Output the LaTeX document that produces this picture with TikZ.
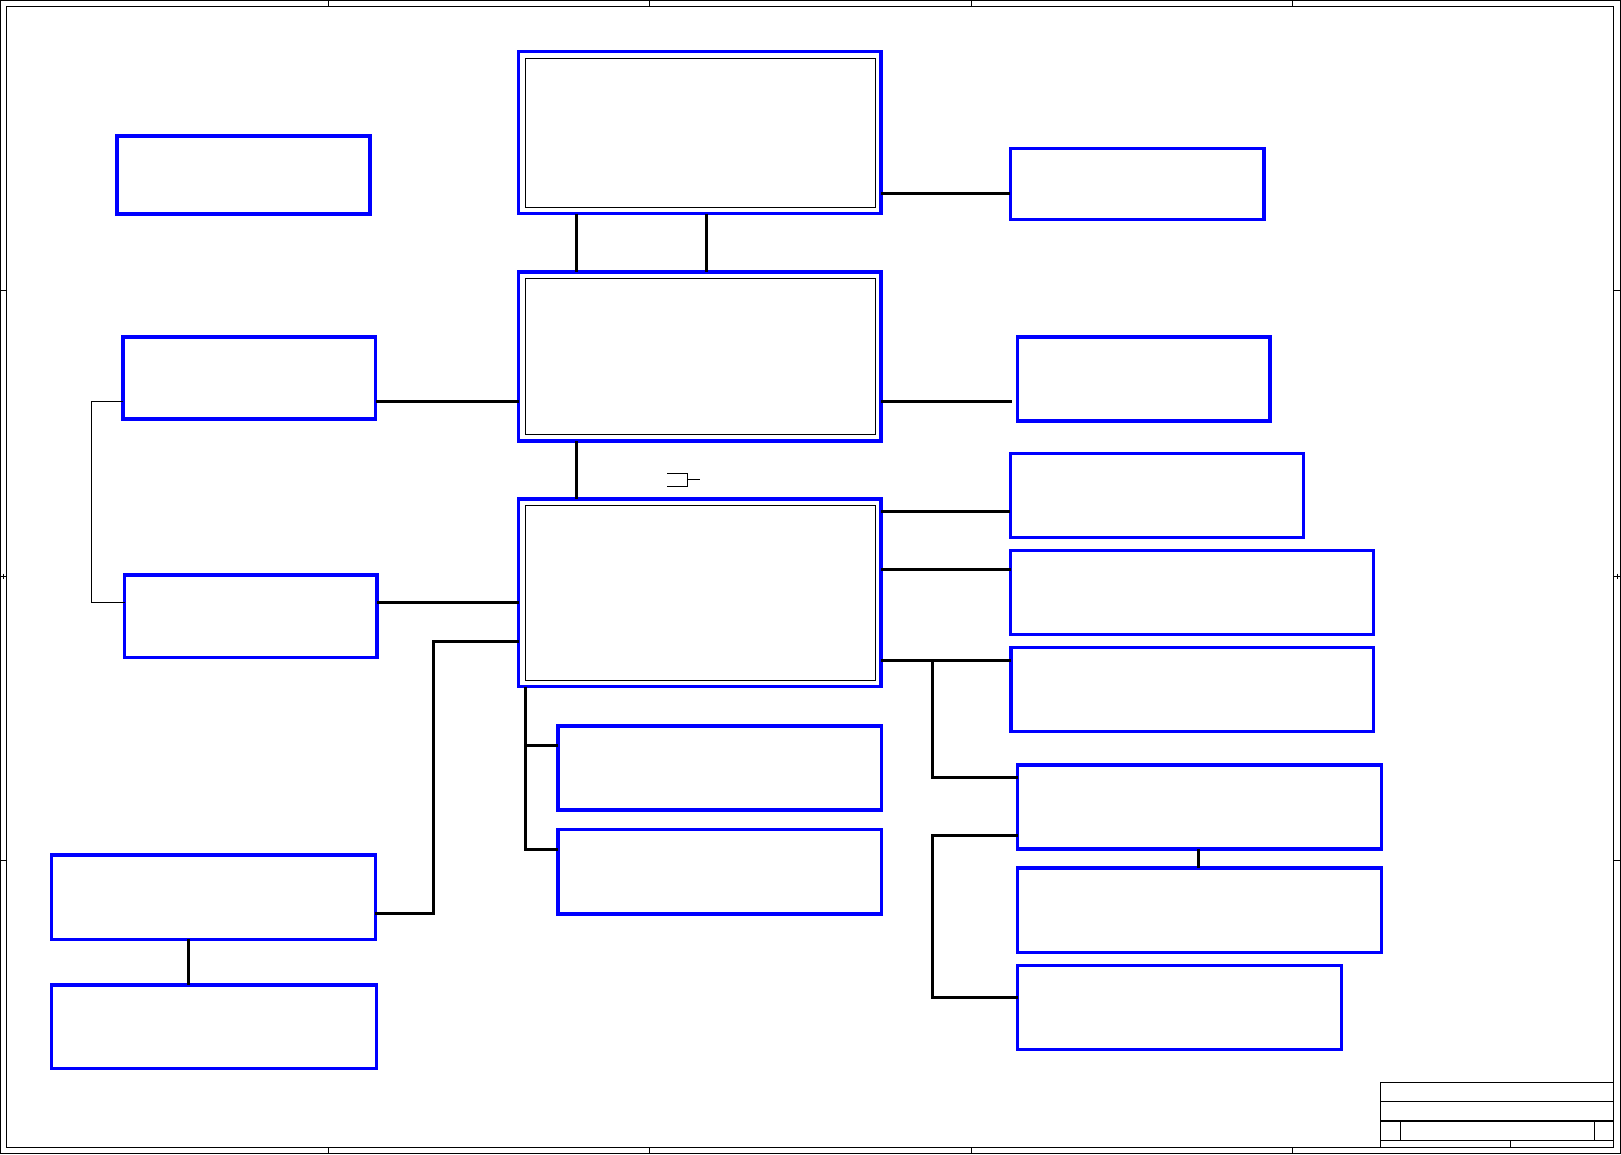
\documentclass[tikz,border=0pt]{standalone}
\usetikzlibrary{calc}
\begin{document}
\begin{tikzpicture}[x=1pt,y=-1pt,
  blk/.style={draw=blue,line width=3.2pt,inner sep=0pt,outer sep=0pt},
  wire/.style={line width=3pt},
  thinwire/.style={line width=1pt},
  frm/.style={line width=1.2pt},
  inbox/.style={line width=0.9pt}]
\useasboundingbox (0,0) rectangle (1621,1154);

% sheet frame
\draw[frm] (0.7,0.7) rectangle (1620.3,1153.3);
\draw[frm] (6.3,6.3) rectangle (1613.7,1147.3);
\foreach \x in {328.7,649.5,971,1292} {
  \draw[thinwire] (\x,0.7) -- (\x,6.3);
  \draw[thinwire] (\x,1147.3) -- (\x,1153.3);
}
\foreach \y in {290.5,576,860} {
  \draw[thinwire] (0.7,\y) -- (6.3,\y);
  \draw[thinwire] (1613.7,\y) -- (1620.3,\y);
}
\draw[thinwire] (3.5,573.5) -- (3.5,578.5);
\draw[thinwire] (1617,573.5) -- (1617,578.5);

% title block
\draw[frm] (1380.3,1147.3) -- (1380.3,1082.7) -- (1613.7,1082.7);
\foreach \y in {1101.7,1121,1140.3}
  \draw[frm] (1380.3,\y) -- (1613.7,\y);
\draw[frm] (1400.3,1121) -- (1400.3,1140.3);
\draw[frm] (1594.3,1121) -- (1594.3,1140.3);
\draw[frm] (1510.3,1140.3) -- (1510.3,1147.3);

% left column
\node[blk,minimum width=253pt,minimum height=78pt] (pwr) at (243.5,175) {};
\node[blk,minimum width=252.5pt,minimum height=82pt] (mema) at (249.25,378) {};
\node[blk,minimum width=252.3pt,minimum height=82.7pt] (memb) at (250.85,616.35) {};
\node[blk,minimum width=323.7pt,minimum height=84.3pt] (ioa) at (213.55,897.15) {};
\node[blk,minimum width=324.7pt,minimum height=83.7pt] (iob) at (214,1026.85) {};

% main column
\node[blk,minimum width=362.5pt,minimum height=162.2pt] (cpu) at (699.75,132.6) {};
\node[blk,minimum width=362.5pt,minimum height=169pt] (nb) at (699.75,356.5) {};
\node[blk,minimum width=362.5pt,minimum height=187.7pt] (sb) at (699.75,592.85) {};
\foreach \n in {cpu,nb,sb}
  \draw[inbox] ($(\n.north west)+(7,6.7)$) rectangle ($(\n.south east)+(-6,-6.7)$);
\node[blk,minimum width=323.2pt,minimum height=84pt] (lpca) at (719.6,768) {};
\node[blk,minimum width=323.2pt,minimum height=84.7pt] (lpcb) at (719.6,871.65) {};

% right column
\node[blk,minimum width=253.7pt,minimum height=71pt] (clk) at (1137.15,184.2) {};
\node[blk,minimum width=252.7pt,minimum height=84pt] (vga) at (1143.65,379) {};
\node[blk,minimum width=293pt,minimum height=83.8pt] (usb) at (1156.8,495.4) {};
\node[blk,minimum width=363pt,minimum height=83.8pt] (sata) at (1192.2,592.4) {};
\node[blk,minimum width=362.8pt,minimum height=84pt] (pcie) at (1192.3,689.7) {};
\node[blk,minimum width=363.4pt,minimum height=84pt] (lan) at (1199.5,807) {};
\node[blk,minimum width=363.4pt,minimum height=84.3pt] (phy) at (1199.5,910.15) {};
\node[blk,minimum width=323.8pt,minimum height=84pt] (aud) at (1179.7,1007.7) {};

% connectors
\draw[wire] (cpu.south -| 576.7,0) -- (nb.north -| 576.7,0);
\draw[wire] (cpu.south -| 706.3,0) -- (nb.north -| 706.3,0);
\draw[wire] (cpu.east |- 0,193.7) -- (clk.west |- 0,193.7);
\draw[wire] (mema.east |- 0,401.5) -- (nb.west |- 0,401.5);
\coordinate (vgaend) at (1011.7,401.7);
\draw[wire] (nb.east |- vgaend) -- (vgaend);
\draw[wire] (nb.south -| 576.7,0) -- (sb.north -| 576.7,0);
\draw[wire] (memb.east |- 0,602.5) -- (sb.west |- 0,602.5);
\coordinate (ioj) at (433.5,913.7);
\draw[wire] (sb.west |- 0,641) -| (ioj) -- (ioa.east |- ioj);
\draw[wire] (ioa.south -| 188,0) -- (iob.north -| 188,0);
\coordinate (memj) at (91.3,401.3);
\draw[thinwire] (mema.west |- memj) -- (memj) |- (memb.west |- 0,602.3);

\draw[wire] (sb.east |- 0,511.7) -- (usb.west |- 0,511.7);
\draw[wire] (sb.east |- 0,569.6) -- (sata.west |- 0,569.6);
\draw[wire] (sb.east |- 0,660.7) -- (pcie.west |- 0,660.7);
\draw[wire] (932.8,660.7) |- (lan.west |- 0,777.3);
\draw[wire] (lan.south -| 1198.6,0) -- (phy.north -| 1198.6,0);
\coordinate (audj) at (932.8,835.7);
\draw[wire] (lan.west |- audj) -- (audj) |- (aud.west |- 0,997.7);

\coordinate (lpcj) at (525.3,849);
\draw[wire] (sb.south -| lpcj) -- (lpcj) -- (lpcb.west |- lpcj);
\draw[wire] (525.3,745) -- (lpca.west |- 0,745);

% strap symbol
\draw[thinwire] (667,473.3) -- (687.7,473.3) -- (687.7,486) -- (667,486);
\draw[thinwire] (687.7,479.7) -- (700.4,479.7);
\end{tikzpicture}
\end{document}
